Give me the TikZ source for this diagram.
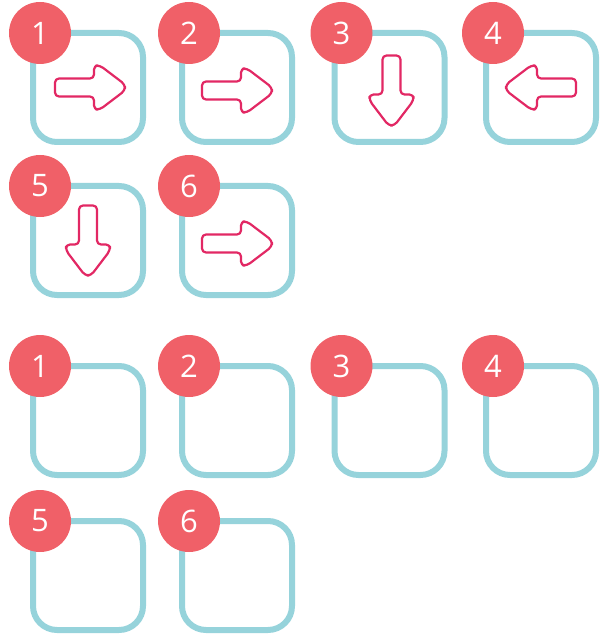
\documentclass[tikz,border=0pt]{standalone}
\usepackage{fontspec}
\setmainfont{Open Sans}
\usepackage{tikz}
\definecolor{tileBlue}{RGB}{150,211,219}
\definecolor{badgeRed}{RGB}{240,96,104}
\definecolor{pointerPink}{RGB}{226,40,100}

\tikzset{
  tile/.style={draw=tileBlue, line width=6pt, rounded corners=24pt,
    minimum width=110pt, minimum height=109pt, outer sep=0pt},
  badge/.style={circle, fill=badgeRed, minimum size=62pt, inner sep=0pt,
    text=white, font=\fontsize{31}{31}\selectfont},
  pics/pointer/.style={code={
    \draw[pointerPink, line width=2.2pt, rounded corners=4pt, line join=round]
      (-35,-9) -- (4,-9) -- (4,-22) -- (10,-22) -- (35,-3) -- (35,3)
      -- (10,22) -- (4,22) -- (4,9) -- (-35,9) -- cycle;
  }}
}

\begin{document}
\begin{tikzpicture}[x=1pt, y=-1pt]
  \useasboundingbox (0,0) rectangle (610,636);
  % Tiles with arrows
  \node[tile] (t1) at (88,87.5) {};
  \node[tile] (t2) at (237,87.5) {};
  \node[tile] (t3) at (389.5,87.5) {};
  \node[tile] (t4) at (541,87.5) {};
  \node[tile] (t5) at (88,240.5) {};
  \node[tile] (t6) at (237,240.5) {};
  \pic at ([xshift=2pt]t1.center) {pointer};
  \pic at ([yshift=-3pt]t2.center) {pointer};
  \pic[rotate=-90] at ([shift={(2,3)}]t3.center) {pointer};
  \pic[rotate=180] at (t4.center) {pointer};
  \pic[rotate=-90] at (t5.center) {pointer};
  \pic at ([yshift=-3pt]t6.center) {pointer};
  % Empty tiles
  \node[tile] (e1) at (88,420.5) {};
  \node[tile] (e2) at (237,420.5) {};
  \node[tile] (e3) at (389.5,420.5) {};
  \node[tile] (e4) at (541,420.5) {};
  \node[tile] (e5) at (88,575.5) {};
  \node[tile] (e6) at (237,575.5) {};
  % Number badges
  \node[badge] (n1) at ([xshift=7pt]t1.north west) {1};
  \node[badge] (n2) at ([xshift=7pt]t2.north west) {2};
  \node[badge] (n3) at ([xshift=7pt]t3.north west) {3};
  \node[badge] (n4) at ([xshift=7pt]t4.north west) {4};
  \node[badge] (n5) at ([xshift=7pt]t5.north west) {5};
  \node[badge] (n6) at ([xshift=7pt]t6.north west) {6};
  \node[badge] (m1) at ([xshift=7pt]e1.north west) {1};
  \node[badge] (m2) at ([xshift=7pt]e2.north west) {2};
  \node[badge] (m3) at ([xshift=7pt]e3.north west) {3};
  \node[badge] (m4) at ([xshift=7pt]e4.north west) {4};
  \node[badge] (m5) at ([xshift=7pt]e5.north west) {5};
  \node[badge] (m6) at ([xshift=7pt]e6.north west) {6};
\end{tikzpicture}
\end{document}
